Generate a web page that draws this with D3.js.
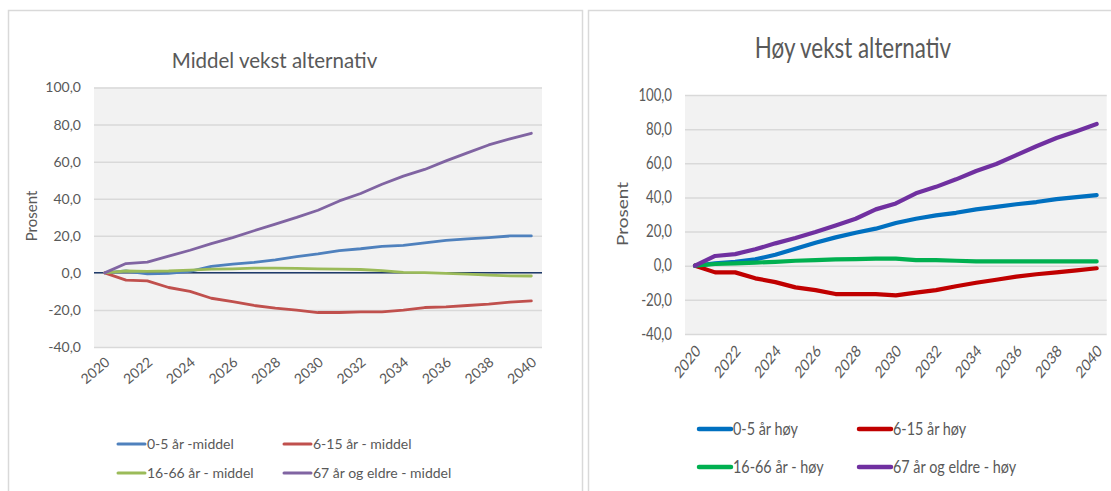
<!DOCTYPE html>
<html lang="no">
<head>
<meta charset="utf-8" />
<title>Vekst alternativ</title>
<script src="https://d3js.org/d3.v7.min.js"></script>
<style>
  body { margin: 0; background: #fff; }
  text { font-family: Lato, "Open Sans", sans-serif; fill: #595959; }
</style>
</head>
<body>
<div id="charts"></div>
<script>

// ---------- data ----------
var years = [2020, 2021, 2022, 2023, 2024, 2025, 2026, 2027, 2028, 2029, 2030,
             2031, 2032, 2033, 2034, 2035, 2036, 2037, 2038, 2039, 2040];
var yearLabels = [2020, 2022, 2024, 2026, 2028, 2030, 2032, 2034, 2036, 2038, 2040];
var yTicks = [-40, -20, 0, 20, 40, 60, 80, 100];

// middel vekst
var middel05   = [0, 1.0, -0.5, -0.3, 0.8, 3.5, 4.7, 5.6, 7.0, 8.8, 10.2, 12.0, 13.0, 14.3, 14.8, 16.2, 17.5, 18.3, 19.0, 19.9, 19.9];
var middel615  = [0, -3.9, -4.3, -7.9, -10.0, -13.7, -15.5, -17.6, -19.0, -20.1, -21.4, -21.4, -21.0, -21.0, -20.1, -18.7, -18.3, -17.6, -16.9, -15.8, -15.1];
var middel1666 = [0, 1.0, 0.8, 1.0, 1.5, 2.0, 2.2, 2.5, 2.6, 2.4, 2.2, 2.0, 1.8, 1.2, 0.3, 0.1, -0.3, -0.7, -1.2, -1.6, -1.7];
var middel67   = [0, 5.0, 5.8, 9.0, 12.2, 15.8, 19.0, 22.7, 26.3, 29.9, 33.8, 38.8, 42.8, 47.8, 52.2, 55.8, 60.4, 64.7, 69.0, 72.3, 75.3];

// høy vekst
var hoy05   = [0, 1.4, 2.3, 3.7, 6.4, 10.0, 13.5, 16.6, 19.3, 21.7, 25.0, 27.5, 29.5, 31.0, 33.0, 34.5, 36.0, 37.3, 39.0, 40.2, 41.3];
var hoy615  = [0, -3.9, -3.9, -7.4, -9.6, -12.7, -14.3, -16.6, -16.6, -16.6, -17.4, -15.8, -14.3, -12.0, -10.0, -8.2, -6.4, -5.0, -3.9, -2.7, -1.5];
var hoy1666 = [0, 1.0, 1.4, 1.8, 2.3, 2.9, 3.3, 3.7, 3.9, 4.1, 4.1, 3.3, 3.3, 2.9, 2.5, 2.5, 2.5, 2.5, 2.5, 2.5, 2.5];
var hoy67   = [0, 5.7, 6.8, 9.6, 13.1, 16.2, 19.7, 23.6, 27.5, 33.0, 36.5, 42.4, 46.2, 50.6, 55.5, 59.6, 64.8, 70.0, 74.8, 78.8, 83.0];

var middelNames = ["0-5 år -middel", "6-15 år - middel", "16-66 år - middel", "67 år og eldre - middel"];
var hoyNames = ["0-5 år høy", "6-15 år høy", "16-66 år - høy", "67 år og eldre - høy"];

// norwegian number format: comma decimal, plain hyphen minus
var fmt = d3.formatLocale({decimal: ",", thousands: " ", grouping: [3], currency: ["", ""], minus: "-"}).format(".1f");

var svg = d3.select("#charts")
  .append("svg")
    .attr("width", 1111)
    .attr("height", 491);

// ---------- chart frames ----------
svg.append("rect")
  .attr("x", 8.5).attr("y", 10.5).attr("width", 574).attr("height", 520)
  .attr("fill", "none").attr("stroke", "#d9d9d9").attr("stroke-width", 1.5);
svg.append("rect")
  .attr("x", 588.5).attr("y", 10.5).attr("width", 560).attr("height", 520)
  .attr("fill", "none").attr("stroke", "#d9d9d9").attr("stroke-width", 1.5);

function drawChart(c) {

  var g = svg.append("g");
  var width = c.x1 - c.x0, height = c.y1 - c.y0;

  var x = d3.scalePoint().domain(years).range([c.x0, c.x1]).padding(0.5);
  var y = d3.scaleLinear().domain([-40, 100]).range([c.y1, c.y0]);

  // plot area
  g.append("rect")
    .attr("x", c.x0).attr("y", c.y0)
    .attr("width", width).attr("height", height)
    .attr("fill", "#f2f2f2");

  // y axis with gridlines
  var ya = g.append("g")
    .attr("transform", "translate(" + c.x0 + ",0)")
    .call(d3.axisLeft(y).tickValues(yTicks).tickFormat(fmt).tickSize(-width).tickPadding(13 / c.sx));
  ya.select(".domain").remove();
  ya.selectAll("line").attr("stroke", "#d9d9d9").attr("stroke-width", 1.5);
  ya.selectAll("text")
    .attr("fill", "#595959")
    .style("font-family", "Lato, sans-serif")
    .style("font-size", c.tickSize + "px")
    .attr("transform", "scale(" + c.sx + ",1)");

  if (c.zeroLine) {
    g.append("line")
      .attr("x1", c.x0).attr("x2", c.x1)
      .attr("y1", y(0)).attr("y2", y(0))
      .attr("stroke", "#1f3b6b").attr("stroke-width", 1.5);
  }

  // x axis labels
  g.append("g")
    .selectAll("text")
    .data(yearLabels)
    .enter()
    .append("text")
      .attr("transform", function(d) {
        return "translate(" + (x(d) + 3) + "," + c.xLabelY + ") scale(" + c.sx + ",1) rotate(" + c.angle + ")";
      })
      .attr("text-anchor", "end")
      .attr("dy", "0.35em")
      .style("font-size", c.xTickSize + "px")
      .text(function(d) { return d; });

  // title
  g.append("text")
    .attr("transform", "translate(" + c.titleX + "," + c.titleY + ") scale(" + c.sx + ",1)")
    .attr("text-anchor", "middle")
    .style("font-size", c.titleSize + "px")
    .text(c.title);

  // y axis title
  g.append("text")
    .attr("transform", "translate(" + c.ylabX + "," + c.ylabY + ") scale(" + c.sx + ",1) rotate(-90)")
    .attr("text-anchor", "middle")
    .style("font-size", c.ylabSize + "px")
    .text("Prosent");

  // lines
  var line = d3.line()
    .x(function(d, i) { return x(years[i]); })
    .y(function(d) { return y(d); });

  c.series.forEach(function(s, i) {
    g.append("path")
      .datum(s)
      .attr("fill", "none")
      .attr("stroke", c.colors[i])
      .attr("stroke-width", c.lineWidth)
      .attr("stroke-linejoin", "round")
      .attr("stroke-linecap", "round")
      .attr("d", line);
  });

  // legend, 2 x 2
  var leg = g.append("g");
  c.names.forEach(function(n, i) {
    var lx = c.legCols[i % 2], ly = c.legRows[Math.floor(i / 2)];
    leg.append("line")
      .attr("x1", lx + 2).attr("x2", lx + c.legLine - 2)
      .attr("y1", ly).attr("y2", ly)
      .attr("stroke", c.colors[i])
      .attr("stroke-width", c.legWidth)
      .attr("stroke-linecap", "round");
    leg.append("text")
      .attr("transform", "translate(" + (lx + c.legLine) + "," + ly + ") scale(" + c.sx + ",1)")
      .attr("dy", "0.35em")
      .style("font-size", c.legSize + "px")
      .text(n);
  });
}

drawChart({
  x0: 94, x1: 542, y0: 87.5, y1: 347, sx: 1,
  title: "Middel vekst alternativ", titleX: 274.5, titleY: 68, titleSize: 20.5,
  ylabX: 37, ylabY: 216, ylabSize: 15,
  tickSize: 14, xTickSize: 14, angle: -40, xLabelY: 360,
  zeroLine: true,
  series: [middel05, middel615, middel1666, middel67],
  names: middelNames,
  colors: ["#4f81bd", "#c0504d", "#9bbb59", "#8064a2"],
  lineWidth: 2.8,
  legCols: [116, 282], legRows: [444, 473], legLine: 31, legWidth: 3, legSize: 14
});

drawChart({
  x0: 685, x1: 1106.7, y0: 95, y1: 334, sx: 0.8,
  title: "Høy vekst alternativ", titleX: 853, titleY: 58, titleSize: 28,
  ylabX: 628, ylabY: 214, ylabSize: 19,
  tickSize: 16.5, xTickSize: 16.5, angle: -45, xLabelY: 348,
  zeroLine: false,
  series: [hoy05, hoy615, hoy1666, hoy67],
  names: hoyNames,
  colors: ["#0070c0", "#c00000", "#00b050", "#7030a0"],
  lineWidth: 4.2,
  legCols: [697, 857], legRows: [429, 467], legLine: 36, legWidth: 4.5, legSize: 18
});

</script>
</body>
</html>
